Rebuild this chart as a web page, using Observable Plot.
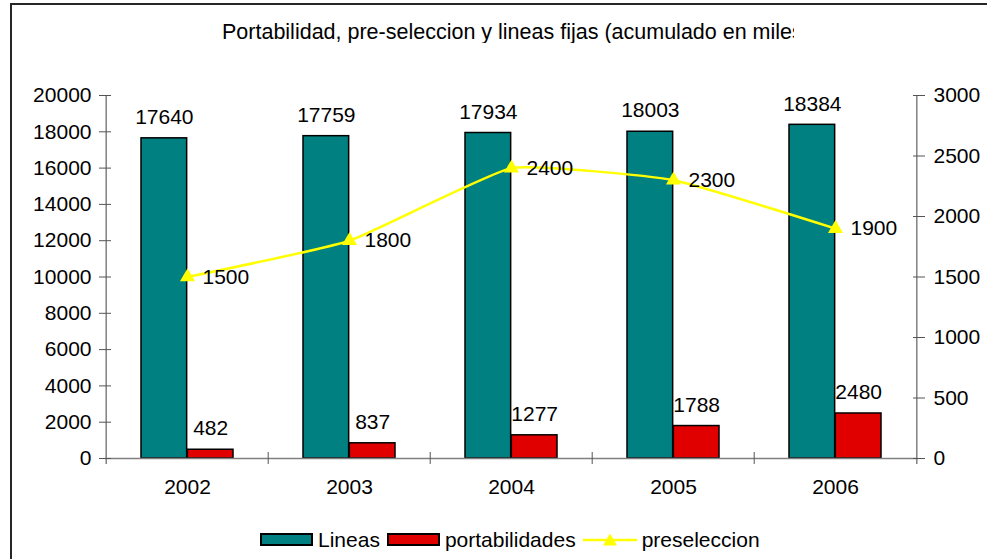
<!DOCTYPE html>
<html>
<head>
<meta charset="utf-8">
<script src="https://cdn.jsdelivr.net/npm/d3@7"></script>
<script src="https://cdn.jsdelivr.net/npm/@observablehq/plot@0.6"></script>
<style>
  html, body { margin: 0; padding: 0; background: #fff; }
  body { width: 987px; height: 559px; overflow: hidden; position: relative; font-family: "Liberation Sans", Arial, sans-serif; }
  #frame { position: absolute; left: 10px; top: 3px; width: 1000px; height: 600px; border: 2px solid #262626; box-sizing: border-box; }
  #chart { position: absolute; left: 0; top: 0; }
  #title { position: absolute; left: 222px; top: 22px; width: 572px; overflow: hidden; white-space: nowrap; font-size: 21.5px; line-height: 21px; color: #000; }
  #legend { position: absolute; left: 260px; top: 529px; display: flex; align-items: center; font-size: 21px; line-height: 21px; color: #000; }
  .sw { width: 53px; height: 13px; border: 2px solid #000; box-sizing: border-box; margin-right: 5px; }
  .lab { margin-right: 7px; }
</style>
</head>
<body>
<div id="frame"></div>
<div id="chart"></div>
<div id="title">Portabilidad, pre-seleccion y lineas fijas (acumulado en miles)</div>
<div id="legend"></div>
<script>
const years = ["2002", "2003", "2004", "2005", "2006"];
const lineas = [17640, 17759, 17934, 18003, 18384];
const portabilidades = [482, 837, 1277, 1788, 2480];
const preseleccion = [1500, 1800, 2400, 2300, 1900];
const leftTicks = [0, 2000, 4000, 6000, 8000, 10000, 12000, 14000, 16000, 18000, 20000];
const rightTicks = [0, 500, 1000, 1500, 2000, 2500, 3000];
const seriesNames = ["Lineas", "portabilidades", "preseleccion"];
const colors = {Lineas: "#008080", portabilidades: "#e00000", preseleccion: "#ffff00"};

const W = 987, H = 559, ML = 105, MR = 69, MT = 95, MB = 101;
const padIn = 0.43;
const step = (W - ML - MR) / years.length;
const bw = step * (1 - padIn);
const k = 20000 / 3000; // right axis -> left axis
const FS = 21;

const data = years.map((y, i) => ({year: y, lineas: lineas[i], port: portabilidades[i], pre: preseleccion[i] * k, preRaw: preseleccion[i]}));
const axisColor = "#808080";
const font = "Liberation Sans, Arial, sans-serif";

const chart = Plot.plot({
  width: W, height: H,
  marginLeft: ML, marginRight: MR, marginTop: MT, marginBottom: MB,
  style: {fontFamily: font, fontSize: FS + "px", color: "#000", background: "transparent"},
  x: {type: "band", domain: years, paddingInner: padIn, paddingOuter: padIn / 2},
  y: {domain: [0, 20000]},
  marks: [
    // bars
    Plot.barY(data, {x: "year", y: "lineas", fill: colors.Lineas, stroke: "#000", strokeWidth: 1.5, insetRight: bw / 2}),
    Plot.text(data, {x: "year", y: "port", text: d => String(d.port), dx: bw / 4, dy: -21, fontSize: FS, fill: "#000"}),
    Plot.barY(data, {x: "year", y: "port", fill: colors.portabilidades, stroke: "#000", strokeWidth: 1.5, insetLeft: bw / 2}),
    // axis lines
    Plot.ruleY([0], {stroke: axisColor, strokeWidth: 1.5}),
    Plot.ruleX([years[0]], {x: d => d, dx: -step / 2, y1: () => 20000, y2: () => 0, insetBottom: -6, stroke: axisColor, strokeWidth: 1.5}),
    Plot.ruleX([years[years.length - 1]], {x: d => d, dx: step / 2, y1: () => 20000, y2: () => 0, insetBottom: -6, stroke: axisColor, strokeWidth: 1.5}),
    Plot.ruleX(years.slice(1), {x: d => d, dx: -step / 2, y1: () => 0, y2: () => 0, insetTop: -6, insetBottom: -6, stroke: "#555", strokeWidth: 1}),
    // left axis
    Plot.axisY({anchor: "left", ticks: leftTicks, tickSize: 6, tickPadding: 8, fontSize: FS, label: null, stroke: "#555", tickFormat: d => String(d)}),
    Plot.axisY({anchor: "left", ticks: leftTicks, tickSize: 6, dx: 6, label: null, stroke: "#555", tickFormat: () => ""}),
    // right axis
    Plot.axisY({anchor: "right", ticks: rightTicks.map(v => v * k), tickSize: 6, tickPadding: 9, fontSize: FS, label: null, stroke: "#555", tickFormat: d => String(Math.round(d / k))}),
    Plot.axisY({anchor: "right", ticks: rightTicks.map(v => v * k), tickSize: 6, dx: -6, label: null, stroke: "#555", tickFormat: () => ""}),
    // x axis labels
    Plot.axisX({anchor: "bottom", tickSize: 0, tickPadding: 21, fontSize: FS, label: null}),
    // preseleccion line
    Plot.line(data, {x: "year", y: "pre", stroke: colors.preseleccion, strokeWidth: 2.5, curve: "cardinal", tension: 0.6}),
    Plot.dot(data, {x: "year", y: "pre", symbol: "triangle", r: 5.6, fill: colors.preseleccion, stroke: "none"}),
    // labels
    Plot.text(data, {x: "year", y: "lineas", text: d => String(d.lineas), dx: -bw / 4, dy: -21, fontSize: FS, fill: "#000"}),
    Plot.text(data, {x: "year", y: "pre", text: d => String(d.preRaw), dx: 15, textAnchor: "start", fontSize: FS, fill: "#000"})
  ]
});
document.getElementById("chart").appendChild(chart);

// legend
const legend = document.getElementById("legend");
seriesNames.forEach(name => {
  let sw;
  if (name === "preseleccion") {
    sw = document.createElementNS("http://www.w3.org/2000/svg", "svg");
    sw.setAttribute("width", 54); sw.setAttribute("height", 16);
    sw.style.marginRight = "5px";
    sw.innerHTML = `<line x1="0" x2="54" y1="8" y2="8" stroke="${colors[name]}" stroke-width="2.5"/>` +
      `<path d="M27,1.5 L34,13.5 L20,13.5 Z" fill="${colors[name]}"/>`;
  } else {
    sw = document.createElement("div");
    sw.className = "sw";
    sw.style.background = colors[name];
  }
  legend.appendChild(sw);
  const t = document.createElement("span");
  t.className = "lab";
  t.textContent = name;
  legend.appendChild(t);
});
</script>
</body>
</html>
